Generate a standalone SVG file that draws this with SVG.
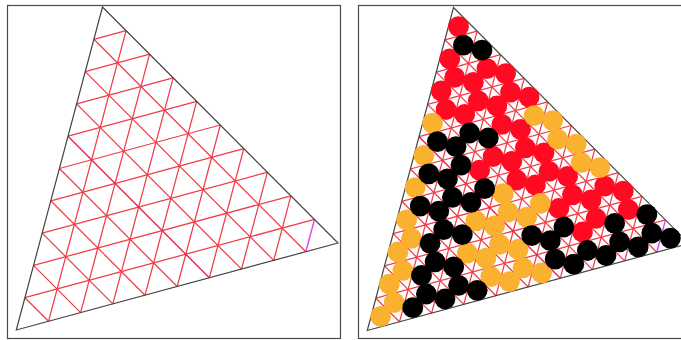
<svg xmlns="http://www.w3.org/2000/svg" width="681" height="340" viewBox="0 0 681 340">
<style>
.frame{fill:#fff;stroke:#4a4a4a;stroke-width:1.2}
.tri{fill:none;stroke:#444;stroke-width:1.2}
.g{stroke:#f03c48;stroke-width:1.25;fill:none}
.d{stroke:#e5254f;stroke-width:1.4;fill:none}
.m{stroke:#e040ee;stroke-width:1.4;fill:none}
.r{fill:#ff0a22}.o{fill:#fbb130}.k{fill:#000}
circle{r:10.4px}
</style>
<defs>
<g id="mesh">
<path class="g" d="M93.9 39.3L126.1 30.6M85.3 71.6L149.6 54.2M76.6 103.9L173.2 77.8M68 136.2L196.7 101.4M59.4 168.5L220.3 125M50.8 200.8L243.8 148.6M42.2 233.1L267.4 172.2M33.5 265.4L290.9 195.8M24.9 297.7L314.5 219.4"/>
<path class="g" d="M126.1 30.6L48.5 321.3M149.6 54.2L80.6 312.6M173.2 77.8L112.8 303.9M196.7 101.4L145 295.2M220.3 125L177.2 286.5M243.8 148.6L209.3 277.8M267.4 172.2L241.5 269.1M290.9 195.8L273.7 260.4"/>
<path class="g" d="M93.9 39.3L305.8 251.7M85.3 71.6L273.7 260.4M76.6 103.9L241.5 269.1M59.4 168.5L177.2 286.5M50.8 200.8L145 295.2M42.2 233.1L112.8 303.9M33.5 265.4L80.6 312.6M24.9 297.7L48.5 321.3"/>
<path class="d" d="M68 136.2L209.3 277.8"/>
<path class="m" d="M314.5 219.4L305.8 251.7"/>
<path class="tri" d="M102.5 7L338 243L16.3 330Z"/>
</g>
</defs>
<rect width="681" height="340" fill="#fff"/>
<rect class="frame" x="7.5" y="5.5" width="333" height="333"/>
<rect class="frame" x="358.5" y="5.5" width="340" height="333"/>
<g id="left-triangle"><use href="#mesh"/></g>
<g id="right-triangle">
<use href="#mesh" transform="translate(351 0.5)"/>
<g id="dots">
<g class="r"><circle cx="458.5" cy="26.6"/><circle cx="449.8" cy="58.8"/><circle cx="441.2" cy="91"/><circle cx="454.7" cy="77.3"/><circle cx="473.4" cy="82.3"/><circle cx="487" cy="68.6"/><circle cx="505.6" cy="73.6"/><circle cx="446.1" cy="109.5"/><circle cx="464.7" cy="114.5"/><circle cx="478.3" cy="100.8"/><circle cx="496.9" cy="105.8"/><circle cx="510.5" cy="92.1"/><circle cx="529.1" cy="97.1"/><circle cx="501.9" cy="124.3"/><circle cx="520.5" cy="129.3"/><circle cx="479.6" cy="170.2"/><circle cx="493.2" cy="156.5"/><circle cx="511.8" cy="161.5"/><circle cx="525.4" cy="147.8"/><circle cx="544" cy="152.8"/><circle cx="516.8" cy="180"/><circle cx="535.4" cy="185"/><circle cx="549" cy="171.3"/><circle cx="567.6" cy="176.3"/><circle cx="558.9" cy="208.5"/><circle cx="572.5" cy="194.8"/><circle cx="591.1" cy="199.8"/><circle cx="604.7" cy="186.1"/><circle cx="623.3" cy="191.1"/><circle cx="582.5" cy="232"/><circle cx="596.1" cy="218.3"/><circle cx="628.3" cy="209.6"/></g>
<g class="o"><circle cx="432.5" cy="123.2"/><circle cx="423.9" cy="155.4"/><circle cx="534.1" cy="115.6"/><circle cx="552.7" cy="120.6"/><circle cx="415.2" cy="187.6"/><circle cx="557.6" cy="139.1"/><circle cx="576.2" cy="144.1"/><circle cx="406.6" cy="219.8"/><circle cx="503.2" cy="193.7"/><circle cx="581.2" cy="162.6"/><circle cx="599.8" cy="167.6"/><circle cx="397.9" cy="252"/><circle cx="411.5" cy="238.3"/><circle cx="475.9" cy="220.9"/><circle cx="494.5" cy="225.9"/><circle cx="508.1" cy="212.2"/><circle cx="526.7" cy="217.2"/><circle cx="540.3" cy="203.5"/><circle cx="389.3" cy="284.2"/><circle cx="402.9" cy="270.5"/><circle cx="467.3" cy="253.1"/><circle cx="485.9" cy="258.1"/><circle cx="499.5" cy="244.4"/><circle cx="518.1" cy="249.4"/><circle cx="380.6" cy="316.4"/><circle cx="394.2" cy="302.7"/><circle cx="490.8" cy="276.6"/><circle cx="509.4" cy="281.6"/><circle cx="523" cy="267.9"/><circle cx="541.6" cy="272.9"/></g>
<g class="k"><circle cx="463.4" cy="45.1"/><circle cx="482" cy="50.1"/><circle cx="437.4" cy="141.7"/><circle cx="456" cy="146.7"/><circle cx="469.7" cy="133"/><circle cx="488.3" cy="138"/><circle cx="428.8" cy="173.9"/><circle cx="447.4" cy="178.9"/><circle cx="461" cy="165.2"/><circle cx="420.2" cy="206.1"/><circle cx="438.8" cy="211.1"/><circle cx="452.4" cy="197.4"/><circle cx="471" cy="202.4"/><circle cx="484.6" cy="188.7"/><circle cx="430.1" cy="243.3"/><circle cx="443.7" cy="229.6"/><circle cx="462.3" cy="234.6"/><circle cx="421.5" cy="275.5"/><circle cx="435.1" cy="261.8"/><circle cx="453.7" cy="266.8"/><circle cx="531.7" cy="235.7"/><circle cx="550.3" cy="240.7"/><circle cx="563.9" cy="227"/><circle cx="614.7" cy="223.3"/><circle cx="646.9" cy="214.6"/><circle cx="412.8" cy="307.7"/><circle cx="426.4" cy="294"/><circle cx="445" cy="299"/><circle cx="458.6" cy="285.3"/><circle cx="477.2" cy="290.3"/><circle cx="555.2" cy="259.2"/><circle cx="573.8" cy="264.2"/><circle cx="587.4" cy="250.5"/><circle cx="606" cy="255.5"/><circle cx="619.6" cy="241.8"/><circle cx="638.2" cy="246.8"/><circle cx="651.8" cy="233.1"/><circle cx="670.4" cy="238.1"/></g>
</g>
</g>
</svg>
